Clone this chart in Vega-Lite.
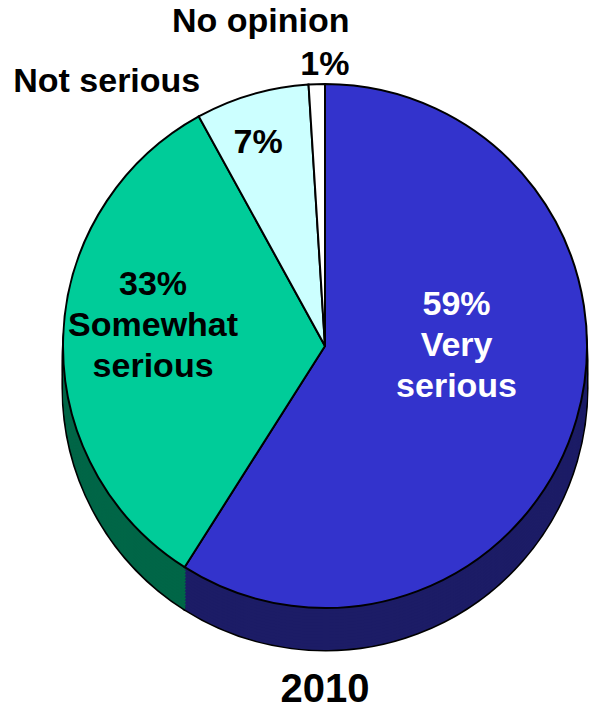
{
  "$schema": "https://vega.github.io/schema/vega-lite/v6.json",
  "width": 580,
  "height": 572,
  "autosize": "none",
  "padding": {"left": 35, "right": 0, "top": 60, "bottom": 81},
  "background": "white",
  "config": {"view": {"stroke": null}},
  "title": {"text": "2010", "orient": "bottom", "anchor": "middle", "fontSize": 40, "font": "Liberation Sans", "fontWeight": "bold", "color": "black", "offset": 14},
  "data": {"values": [
    {"cat": "Very serious", "pct": 59, "ord": 1, "lab": "59%\nVery\nserious"},
    {"cat": "Somewhat serious", "pct": 33, "ord": 2, "lab": "33%\nSomewhat\nserious"},
    {"cat": "Not serious", "pct": 7, "ord": 3, "lab": "7%"},
    {"cat": "No opinion", "pct": 1, "ord": 4, "lab": "No opinion\n1%"}
  ]},
  "encoding": {
    "theta": {"field": "pct", "type": "quantitative", "stack": true},
    "order": {"field": "ord", "type": "quantitative"}
  },
  "layer": [
    {"mark": {"type": "arc", "outerRadius": 262, "yOffset": 42, "fill": "black", "stroke": "black", "strokeWidth": 3}},
    {"mark": {"type": "arc", "outerRadius": 262, "yOffset": 28, "fill": "black", "stroke": "black", "strokeWidth": 3}},
    {"mark": {"type": "arc", "outerRadius": 262, "yOffset": 14, "fill": "black", "stroke": "black", "strokeWidth": 3}},
    {"mark": {"type": "arc", "outerRadius": 262, "yOffset": 42}, "encoding": {"fill": {"field": "cat", "type": "nominal", "legend": null, "scale": {"domain": ["Very serious", "Somewhat serious", "Not serious", "No opinion"], "range": ["#1C1C66", "#006647", "#7A9999", "#999999"]}}}},
    {"mark": {"type": "arc", "outerRadius": 262, "yOffset": 39}, "encoding": {"fill": {"field": "cat", "type": "nominal", "legend": null}}},
    {"mark": {"type": "arc", "outerRadius": 262, "yOffset": 36}, "encoding": {"fill": {"field": "cat", "type": "nominal", "legend": null}}},
    {"mark": {"type": "arc", "outerRadius": 262, "yOffset": 33}, "encoding": {"fill": {"field": "cat", "type": "nominal", "legend": null}}},
    {"mark": {"type": "arc", "outerRadius": 262, "yOffset": 30}, "encoding": {"fill": {"field": "cat", "type": "nominal", "legend": null}}},
    {"mark": {"type": "arc", "outerRadius": 262, "yOffset": 27}, "encoding": {"fill": {"field": "cat", "type": "nominal", "legend": null}}},
    {"mark": {"type": "arc", "outerRadius": 262, "yOffset": 24}, "encoding": {"fill": {"field": "cat", "type": "nominal", "legend": null}}},
    {"mark": {"type": "arc", "outerRadius": 262, "yOffset": 21}, "encoding": {"fill": {"field": "cat", "type": "nominal", "legend": null}}},
    {"mark": {"type": "arc", "outerRadius": 262, "yOffset": 18}, "encoding": {"fill": {"field": "cat", "type": "nominal", "legend": null}}},
    {"mark": {"type": "arc", "outerRadius": 262, "yOffset": 15}, "encoding": {"fill": {"field": "cat", "type": "nominal", "legend": null}}},
    {"mark": {"type": "arc", "outerRadius": 262, "yOffset": 12}, "encoding": {"fill": {"field": "cat", "type": "nominal", "legend": null}}},
    {"mark": {"type": "arc", "outerRadius": 262, "yOffset": 9}, "encoding": {"fill": {"field": "cat", "type": "nominal", "legend": null}}},
    {"mark": {"type": "arc", "outerRadius": 262, "yOffset": 6}, "encoding": {"fill": {"field": "cat", "type": "nominal", "legend": null}}},
    {"mark": {"type": "arc", "outerRadius": 262, "yOffset": 3}, "encoding": {"fill": {"field": "cat", "type": "nominal", "legend": null}}},
    {"mark": {"type": "arc", "outerRadius": 262, "stroke": "black", "strokeWidth": 2, "opacity": 1}, "encoding": {"color": {"field": "cat", "type": "nominal", "legend": null, "scale": {"domain": ["Very serious", "Somewhat serious", "Not serious", "No opinion"], "range": ["#3333CC", "#00CC99", "#CCFFFF", "#FFFFFF"]}}}},
    {"mark": {"type": "text", "radius": 137, "dy": -79, "align": "center", "baseline": "middle", "lineBreak": "\n", "lineHeight": 41, "font": "Liberation Sans", "fontSize": 34, "fontWeight": "bold", "color": "white"},
     "encoding": {"text": {"condition": {"test": "datum.cat === 'Very serious'", "field": "lab"}, "value": ""}}},
    {"mark": {"type": "text", "radius": 172, "dy": -56, "align": "center", "baseline": "middle", "lineBreak": "\n", "lineHeight": 41, "font": "Liberation Sans", "fontSize": 34, "fontWeight": "bold", "color": "black"},
     "encoding": {"text": {"condition": {"test": "datum.cat === 'Somewhat serious'", "field": "lab"}, "value": ""}}},
    {"mark": {"type": "text", "radius": 211, "dx": -8, "align": "center", "baseline": "middle", "font": "Liberation Sans", "fontSize": 34, "fontWeight": "bold", "color": "black"},
     "encoding": {"text": {"condition": {"test": "datum.cat === 'Not serious'", "field": "lab"}, "value": ""}}},
    {"mark": {"type": "text", "radius": 275, "dx": -48, "align": "right", "baseline": "middle", "font": "Liberation Sans", "fontSize": 34, "fontWeight": "bold", "color": "black"},
     "encoding": {"text": {"condition": {"test": "datum.cat === 'Not serious'", "field": "cat"}, "value": ""}}},
    {"mark": {"type": "text", "radius": 303, "dx": 34, "dy": -21, "align": "right", "baseline": "middle", "lineBreak": "\n", "lineHeight": 43, "font": "Liberation Sans", "fontSize": 34, "fontWeight": "bold", "color": "black"},
     "encoding": {"text": {"condition": {"test": "datum.cat === 'No opinion'", "field": "lab"}, "value": ""}}}
  ]
}
